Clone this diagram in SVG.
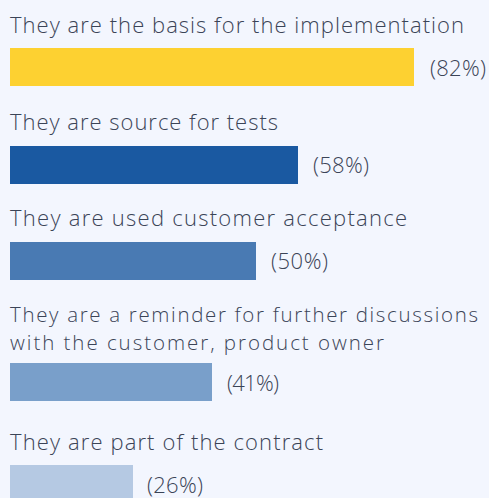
<svg xmlns="http://www.w3.org/2000/svg" width="489" height="498" viewBox="0 0 489 498">
<style>
.t{font-family:"Open Sans","Liberation Sans",sans-serif;font-weight:300;font-size:22px;fill:#3b4457}
.s{font-size:20.5px}
</style>
<rect width="489" height="498" fill="#f3f6fe"/>
<g id="bar1">
<text class="t" x="10" y="33" textLength="454">They are the basis for the implementation</text>
<rect x="10" y="48" width="404" height="38" fill="#fdd131"/>
<text class="t" x="430" y="76" textLength="56">(82%)</text>
</g>
<g id="bar2">
<text class="t" x="10" y="130" textLength="268">They are source for tests</text>
<rect x="10" y="146" width="288" height="38" fill="#1a59a1"/>
<text class="t" x="313" y="173" textLength="56">(58%)</text>
</g>
<g id="bar3">
<text class="t" x="10" y="226" textLength="397">They are used customer acceptance</text>
<rect x="10" y="242" width="246" height="38" fill="#497ab3"/>
<text class="t" x="271" y="269" textLength="57">(50%)</text>
</g>
<g id="bar4">
<text class="t s" x="10" y="321.5" textLength="468">They are a reminder for further discussions</text>
<text class="t s" x="10" y="349.8" textLength="374">with the customer, product owner</text>
<rect x="10" y="363" width="202" height="38" fill="#799fca"/>
<text class="t" x="227" y="391" textLength="52">(41%)</text>
</g>
<g id="bar5">
<text class="t" x="10" y="450" textLength="313">They are part of the contract</text>
<rect x="10" y="465" width="123" height="38" fill="#b5c9e3"/>
<text class="t" x="147" y="493" textLength="56">(26%)</text>
</g>
</svg>
